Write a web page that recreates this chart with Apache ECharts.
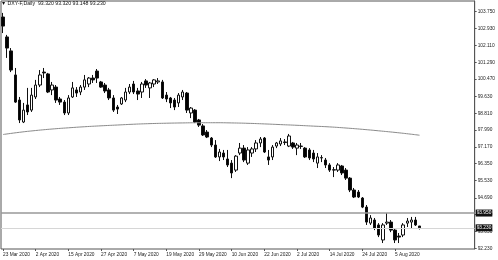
<!DOCTYPE html>
<html><head><meta charset="utf-8">
<script src="https://cdn.jsdelivr.net/npm/echarts@6/dist/echarts.min.js"></script>
<style>html,body{margin:0;padding:0;background:#fff}#c{width:498px;height:260px}</style>
</head><body><div id="c"></div>
<script>
const categories = [
 '23 Mar 2020','24 Mar 2020','25 Mar 2020','26 Mar 2020','27 Mar 2020','30 Mar 2020','31 Mar 2020',
 '1 Apr 2020','2 Apr 2020','3 Apr 2020','6 Apr 2020','7 Apr 2020','8 Apr 2020','9 Apr 2020','13 Apr 2020','14 Apr 2020','15 Apr 2020',
 '16 Apr 2020','17 Apr 2020','20 Apr 2020','21 Apr 2020','22 Apr 2020','23 Apr 2020','24 Apr 2020','27 Apr 2020',
 '28 Apr 2020','29 Apr 2020','30 Apr 2020','1 May 2020','4 May 2020','5 May 2020','6 May 2020','7 May 2020',
 '8 May 2020','11 May 2020','12 May 2020','13 May 2020','14 May 2020','15 May 2020','18 May 2020','19 May 2020',
 '20 May 2020','21 May 2020','22 May 2020','25 May 2020','26 May 2020','27 May 2020','28 May 2020','29 May 2020',
 '1 Jun 2020','2 Jun 2020','3 Jun 2020','4 Jun 2020','5 Jun 2020','8 Jun 2020','9 Jun 2020','10 Jun 2020',
 '11 Jun 2020','12 Jun 2020','15 Jun 2020','16 Jun 2020','17 Jun 2020','18 Jun 2020','19 Jun 2020','22 Jun 2020',
 '23 Jun 2020','24 Jun 2020','25 Jun 2020','26 Jun 2020','29 Jun 2020','30 Jun 2020','1 Jul 2020','2 Jul 2020',
 '3 Jul 2020','6 Jul 2020','7 Jul 2020','8 Jul 2020','9 Jul 2020','10 Jul 2020','13 Jul 2020','14 Jul 2020',
 '15 Jul 2020','16 Jul 2020','17 Jul 2020','20 Jul 2020','21 Jul 2020','22 Jul 2020','23 Jul 2020','24 Jul 2020',
 '27 Jul 2020','28 Jul 2020','29 Jul 2020','30 Jul 2020','31 Jul 2020','3 Aug 2020','4 Aug 2020','5 Aug 2020',
 '6 Aug 2020','7 Aug 2020','10 Aug 2020','11 Aug 2020','12 Aug 2020','13 Aug 2020'
];
const opens = [
 103.49,102.52,101.84,100.67,99.45,98.38,99.21,98.96,99.60,100.18,100.81,100.72,99.94,100.08,99.50,99.35,98.82,99.60,99.94,99.84,
 100.08,100.23,100.52,100.86,100.33,100.18,99.94,99.55,99.11,99.26,99.45,99.84,100.23,99.89,99.84,100.38,100.04,100.23,100.33,100.33,
 99.69,99.55,99.45,99.31,99.60,99.79,98.82,98.96,98.48,98.19,97.89,97.60,97.26,96.68,96.87,96.58,96.38,96.04,96.87,97.11,
 96.38,96.87,97.07,97.36,97.60,96.68,96.68,97.21,97.31,97.41,97.21,97.36,97.11,97.19,97.11,97.02,96.87,96.38,96.63,96.53,
 96.29,96.04,96.04,96.24,96.04,95.65,95.07,94.97,94.68,94.24,93.46,93.61,93.37,92.64,93.46,93.51,93.12,92.83,92.88,93.46,
 93.51,93.61,93.32
];
const highs = [
 103.69,102.62,101.98,101.01,99.60,99.31,100.04,100.04,100.43,100.91,101.01,100.77,100.33,100.18,99.60,99.45,99.69,100.33,100.08,100.18,
 100.67,100.57,100.67,100.96,100.38,100.28,100.04,99.69,99.21,99.60,100.04,100.23,100.38,100.04,100.33,100.47,100.33,100.47,100.52,100.43,
 99.84,99.60,99.55,99.79,99.94,99.84,99.11,99.01,98.53,98.28,97.99,97.65,97.50,97.07,97.02,97.02,96.53,96.77,97.36,97.26,
 97.16,97.16,97.50,97.65,97.65,97.02,97.26,97.41,97.60,97.55,97.80,97.41,97.36,97.36,97.16,97.11,97.02,96.87,96.77,96.63,
 96.38,96.19,96.38,96.29,96.14,95.70,95.17,95.07,94.73,94.34,93.85,93.71,93.46,93.46,93.95,93.61,93.22,92.98,93.46,93.71,
 93.76,93.76,93.32
];
const lows = [
 102.71,101.50,100.81,99.31,98.33,98.33,98.72,98.87,99.50,100.08,100.52,99.79,99.69,99.31,99.21,98.72,98.72,99.55,99.60,99.69,
 99.94,100.08,100.28,100.28,100.04,99.79,99.45,98.87,98.77,99.21,99.35,99.74,99.74,99.45,99.55,100.04,99.55,100.08,100.23,99.50,
 99.35,99.06,98.96,99.11,99.45,98.82,98.57,98.33,98.14,97.70,97.60,97.16,96.63,96.48,96.53,96.19,95.65,95.95,96.77,96.43,
 96.29,96.68,96.92,97.16,96.87,96.29,96.53,97.11,97.21,97.26,97.16,97.07,96.77,97.07,96.63,96.53,96.43,96.14,96.43,96.14,
 95.95,95.70,95.95,95.80,95.56,94.97,94.68,94.68,94.19,93.37,93.37,93.12,92.78,92.49,93.37,93.02,92.49,92.49,92.78,93.27,
 93.22,93.32,93.148
];
const closes = [
 103.05,101.98,100.91,99.35,98.48,98.96,98.87,99.69,100.18,100.67,100.77,99.84,100.18,99.45,99.35,98.82,99.55,100.04,99.79,100.08,
 100.43,100.52,100.43,100.52,100.08,99.89,99.55,98.96,99.01,99.55,99.84,100.08,99.84,99.74,100.23,100.18,100.28,100.43,100.38,99.55,
 99.50,99.31,99.11,99.69,99.84,98.96,99.06,98.38,98.23,97.75,97.65,97.26,96.68,96.92,96.68,96.29,95.90,96.72,97.11,96.53,
 97.02,97.07,97.36,97.55,96.92,96.53,97.16,97.36,97.46,97.38,97.70,97.16,97.26,97.21,96.68,96.63,96.58,96.68,96.65,96.29,
 96.04,96.06,96.29,95.90,95.65,95.07,94.73,94.73,94.24,93.51,93.71,93.22,92.88,93.37,93.51,93.12,92.64,92.78,93.37,93.56,
 93.61,93.37,93.23
];
const maIndex = [0,4,8,12,16,20,24,28,32,36,40,44,48,52,56,60,64,68,72,76,80,84,88,92,96,100,102];
const maValues = [97.772,97.879,97.966,98.039,98.098,98.151,98.195,98.234,98.273,98.302,98.322,98.336,98.346,98.346,98.336,98.317,98.288,98.254,98.220,98.181,98.142,98.088,98.025,97.952,97.874,97.786,97.737];
const yTickValues = [103.75,102.93,102.11,101.29,100.47,99.63,98.81,97.99,97.17,96.35,95.53,94.69,93.87,93.05,92.23];
const priceLines = [93.95, 93.23];
const symbolName = 'DXY-F,Daily';

const FONT = 'Liberation Sans';
const chart = echarts.init(document.getElementById('c'), null, {renderer: 'canvas'});
const candleData = categories.map((d, i) => [opens[i], closes[i], lows[i], highs[i]]);
const last = categories.length - 1;
const titleText = '\u25BC ' + symbolName + '  ' + [opens[last], highs[last], lows[last], closes[last]].map(v => v.toFixed(3)).join(' ');
const showIdx = (i) => i % 8 === 0 && i < categories.length;

chart.setOption({
  animation: false,
  backgroundColor: '#fff',
  title: {text: titleText, left: 1, top: 1, padding: 0,
    textStyle: {fontSize: 5.2, fontWeight: 'normal', color: '#111', fontFamily: FONT}},
  grid: {left: 1, right: 21, top: 1, bottom: 11, show: true, borderColor: '#555', borderWidth: 1},
  xAxis: {
    type: 'category', data: categories, max: 115, boundaryGap: true,
    axisLine: {show: false},
    axisTick: {show: true, alignWithLabel: true, length: 2, interval: showIdx, lineStyle: {color: '#555'}},
    axisLabel: {interval: showIdx, align: 'left', fontSize: 4.8, margin: 3, color: '#222', fontFamily: FONT,
      formatter: v => v || ''},
    splitLine: {show: false}
  },
  yAxis: {
    type: 'value', position: 'right', min: 92.2, max: 104.27,
    axisLine: {show: true, lineStyle: {color: '#555'}},
    axisTick: {show: true, length: 2, customValues: yTickValues, lineStyle: {color: '#555'}},
    axisLabel: {customValues: yTickValues, formatter: v => Number(v).toFixed(3), fontSize: 4.8, margin: 3,
      color: '#222', fontFamily: FONT},
    splitLine: {show: false}
  },
  series: [
    {
      type: 'candlestick', data: candleData, barWidth: 3,
      itemStyle: {color: '#fff', color0: '#000', borderColor: '#111', borderColor0: '#111', borderWidth: 1},
      markLine: {
        silent: true, symbol: 'none', animation: false,
        data: priceLines.map((v, k) => ({
          yAxis: v,
          lineStyle: {color: k === 0 ? '#999' : '#d6d6d6', width: k === 0 ? 1.5 : 1, type: 'solid'},
          label: {show: true, position: 'end', distance: 1, formatter: p => Number(p.value).toFixed(3),
            backgroundColor: '#111', color: '#fff', fontSize: 4.8, fontFamily: FONT, padding: [1, 1, 1, 1]}
        }))
      }
    },
    {
      type: 'line', data: maIndex.map((x, k) => [x, maValues[k]]), showSymbol: false, smooth: true,
      lineStyle: {color: '#8a8a8a', width: 1}, silent: true
    }
  ]
});
</script></body></html>
